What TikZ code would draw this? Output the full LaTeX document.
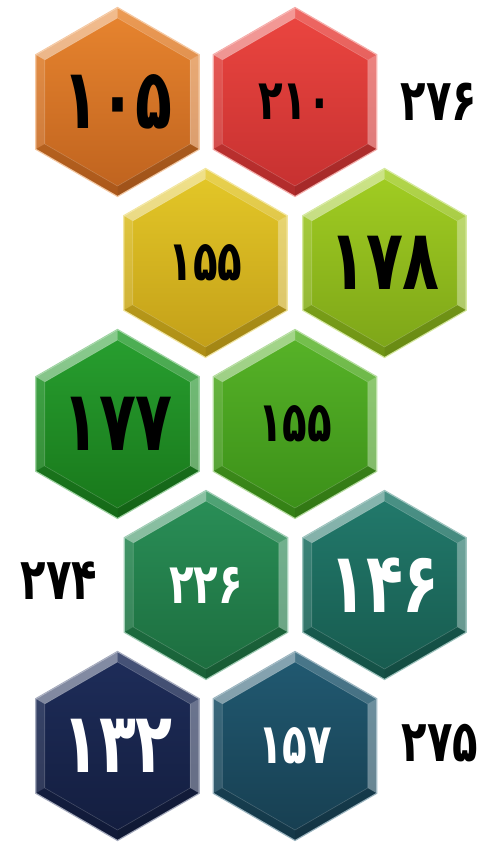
\documentclass[tikz,border=0pt]{standalone}
\usepackage{fontspec}
\newfontfamily\farsi[Script=Arabic]{DejaVu Sans}
\usetikzlibrary{shapes.geometric,calc}

\definecolor{orangeT}{HTML}{E8852F}\definecolor{orangeB}{HTML}{BE621E}
\definecolor{redT}{HTML}{EC4640}\definecolor{redB}{HTML}{C53030}
\definecolor{yellowT}{HTML}{E4C828}\definecolor{yellowB}{HTML}{C29E18}
\definecolor{limeT}{HTML}{A2CE22}\definecolor{limeB}{HTML}{7CA418}
\definecolor{greenT}{HTML}{28A030}\definecolor{greenB}{HTML}{18761A}
\definecolor{grassT}{HTML}{58B428}\definecolor{grassB}{HTML}{3A8E18}
\definecolor{seaT}{HTML}{2A9058}\definecolor{seaB}{HTML}{1C6C3E}
\definecolor{tealT}{HTML}{227A6C}\definecolor{tealB}{HTML}{175A4E}
\definecolor{navyT}{HTML}{1E2D5A}\definecolor{navyB}{HTML}{131D3E}
\definecolor{petrolT}{HTML}{215A72}\definecolor{petrolB}{HTML}{173E50}

\newcommand{\narrow}[1]{\scalebox{0.72}[1]{#1}}

\tikzset{
  hexcell/.style={regular polygon, regular polygon sides=6, shape border rotate=30,
    minimum size=189pt, inner sep=0pt, outer sep=0pt, line width=1.2pt},
  bigdigit/.style={font=\farsi\bfseries\fontsize{84}{84}\selectfont, inner sep=0pt},
  middigit/.style={font=\farsi\bfseries\fontsize{56}{56}\selectfont, inner sep=0pt},
  sidelabel/.style={font=\farsi\bfseries\fontsize{58}{58}\selectfont, inner sep=0pt}
}

\begin{document}
\begin{tikzpicture}[x=1pt,y=1pt]
  \useasboundingbox (0,0) rectangle (483,843);
  % tiles, top row to bottom row
  \node[hexcell, top color=orangeT, bottom color=orangeB, draw=orangeT!45!white] (a) at (117.5,741) {};
  \node[hexcell, top color=redT, bottom color=redB, draw=redT!45!white] (b) at (295,741) {};
  \node[hexcell, top color=yellowT, bottom color=yellowB, draw=yellowT!45!white] (c) at (205.5,580) {};
  \node[hexcell, top color=limeT, bottom color=limeB, draw=limeT!45!white] (d) at (384.5,580) {};
  \node[hexcell, top color=greenT, bottom color=greenB, draw=greenT!45!white] (e) at (117.5,419) {};
  \node[hexcell, top color=grassT, bottom color=grassB, draw=grassT!45!white] (f) at (295,419) {};
  \node[hexcell, top color=seaT, bottom color=seaB, draw=seaT!45!white] (g) at (206,258) {};
  \node[hexcell, top color=tealT, bottom color=tealB, draw=tealT!45!white] (h) at (384.5,258) {};
  \node[hexcell, top color=navyT, bottom color=navyB, draw=navyT!40!white] (i) at (117.5,97) {};
  \node[hexcell, top color=petrolT, bottom color=petrolB, draw=petrolT!45!white] (j) at (295,97) {};

  % bevel facets
  \foreach \n in {a,b,c,d,e,f,g,h,i,j}{
    \foreach \k/\c/\o in {0/white/0.45,1/white/0.12,2/black/0.10,3/black/0.16,4/white/0.35,5/white/0.18}{
      \fill[\c, opacity=\o]
        ($(\n.center)+(90+60*\k:94)$) -- ($(\n.center)+(150+60*\k:94)$)
        -- ($(\n.center)+(150+60*\k:84)$) -- ($(\n.center)+(90+60*\k:84)$) -- cycle;
    }
    \draw[white, opacity=0.2, line width=0.6pt]
      ($(\n.center)+(90:84)$) \foreach \k in {1,...,5}{ -- ($(\n.center)+(90+60*\k:84)$)} -- cycle;
  }

  % values
  \node[bigdigit] (va) at (a) {\narrow{۱۰۵}};
  \node[middigit] (vb) at (b) {\narrow{۲۱۰}};
  \node[middigit] (vc) at (c) {\narrow{۱۵۵}};
  \node[bigdigit] (vd) at (d) {\narrow{۱۷۸}};
  \node[bigdigit] (ve) at (e) {\narrow{۱۷۷}};
  \node[middigit] (vf) at (f) {\narrow{۱۵۵}};
  \node[middigit, text=white] (vg) at (g) {\narrow{۲۲۶}};
  \node[bigdigit, text=white] (vh) at (h) {\narrow{۱۴۶}};
  \node[bigdigit, text=white] (vi) at (i) {\narrow{۱۳۲}};
  \node[middigit, text=white] (vj) at (j) {\narrow{۱۵۷}};

  % totals beside the rows
  \node[sidelabel] (t1) at (439,741) {\narrow{۲۷۶}};
  \node[sidelabel] (t4) at (59,262) {\narrow{۲۷۴}};
  \node[sidelabel] (t5) at (440,100) {\narrow{۲۷۵}};
\end{tikzpicture}
\end{document}
